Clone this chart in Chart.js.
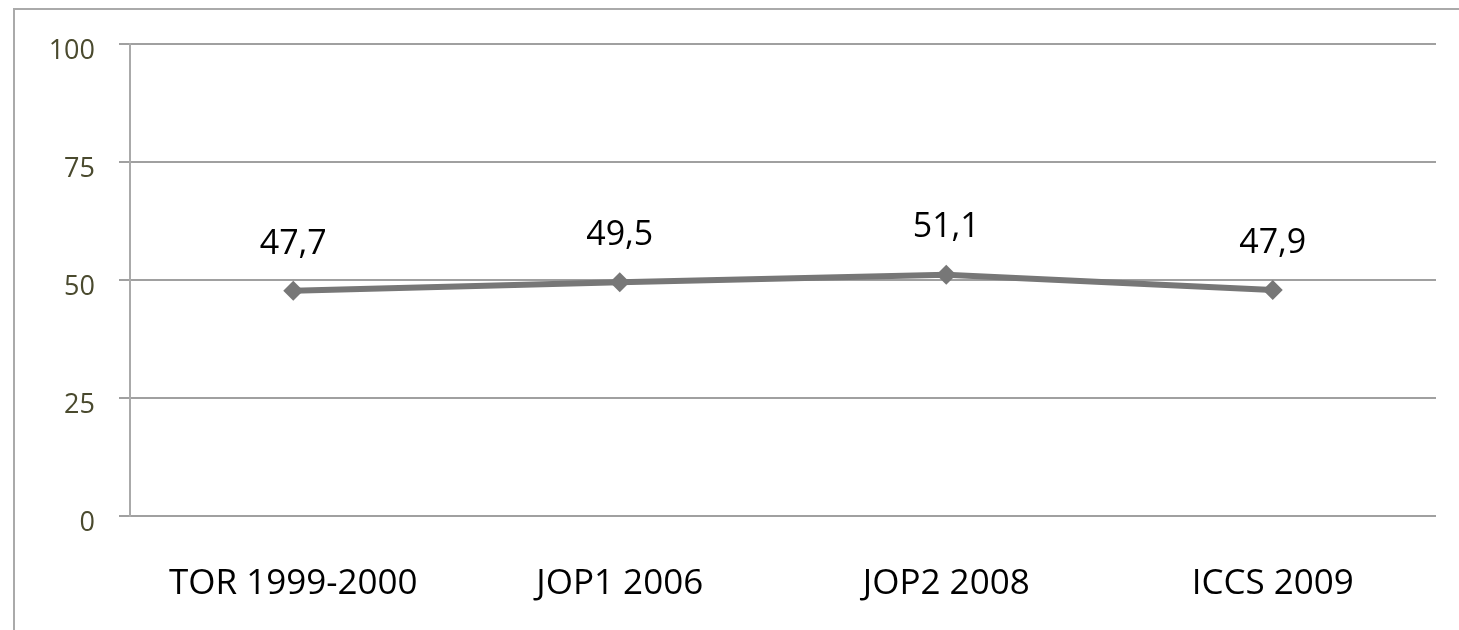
<!DOCTYPE html>
<html>
<head>
<meta charset="utf-8">
<script src="https://cdn.jsdelivr.net/npm/chart.js@4"></script>
<style>
  html, body { margin: 0; padding: 0; background: #fff; }
  body { width: 1459px; height: 630px; position: relative; overflow: hidden; }
  #frame {
    position: absolute; left: 13px; top: 8px; width: 1446px; height: 622px;
    border-top: 2px solid #aaa; border-left: 2px solid #aaa; box-sizing: border-box;
  }
  #chart { display: block; }
</style>
</head>
<body>
<div id="frame"><canvas id="chart" width="1444" height="620"></canvas></div>
<script>
var labels = ['TOR 1999-2000', 'JOP1 2006', 'JOP2 2008', 'ICCS 2009'];
var values = [47.7, 49.5, 51.1, 47.9];
var yTicks = [0, 25, 50, 75, 100];

// value labels written above each point, with a decimal comma
var valueLabels = {
  id: 'valueLabels',
  afterDatasetsDraw: function (chart) {
    var ctx = chart.ctx;
    var meta = chart.getDatasetMeta(0);
    ctx.save();
    ctx.font = '34px "Open Sans"';
    ctx.fillStyle = '#000';
    ctx.textAlign = 'center';
    ctx.textBaseline = 'middle';
    meta.data.forEach(function (pt, i) {
      ctx.fillText(String(values[i]).replace('.', ','), pt.x, pt.y - 47);
    });
    ctx.restore();
  }
};

var ctx = document.getElementById('chart').getContext('2d');
var chart = new Chart(ctx, {
  type: 'line',
  data: {
    labels: labels,
    datasets: [{
      data: values,
      borderColor: '#777',
      backgroundColor: '#777',
      borderWidth: 6,
      pointStyle: 'rectRot',
      pointRadius: 10,
      pointBorderWidth: 0,
      tension: 0
    }]
  },
  options: {
    responsive: false,
    animation: false,
    layout: { padding: { top: 34, right: 23, left: 0, bottom: 0 } },
    plugins: {
      legend: { display: false },
      tooltip: { enabled: false }
    },
    scales: {
      x: {
        offset: true,
        grid: { display: false, drawTicks: false },
        border: { display: false },
        ticks: {
          padding: 47,
          color: '#000',
          font: { family: 'Open Sans', size: 35 },
          maxRotation: 0
        },
        afterFit: function (scale) {
          scale.height = 114;
          scale.paddingLeft = 0;
          scale.paddingRight = 0;
        }
      },
      y: {
        min: 0,
        max: 100,
        afterBuildTicks: function (scale) {
          scale.ticks = yTicks.map(function (v) { return { value: v }; });
        },
        grid: { color: '#a0a0a0', lineWidth: 2, tickLength: 11 },
        border: { display: true, color: '#aaa', width: 2 },
        ticks: {
          padding: 24,
          labelOffset: 7,
          color: '#4a4a2e',
          font: { family: 'Open Sans', size: 27 }
        },
        afterFit: function (scale) {
          scale.width = 115;
          scale.paddingTop = 0;
          scale.paddingBottom = 0;
        }
      }
    }
  },
  plugins: [valueLabels]
});
</script>
</body>
</html>
